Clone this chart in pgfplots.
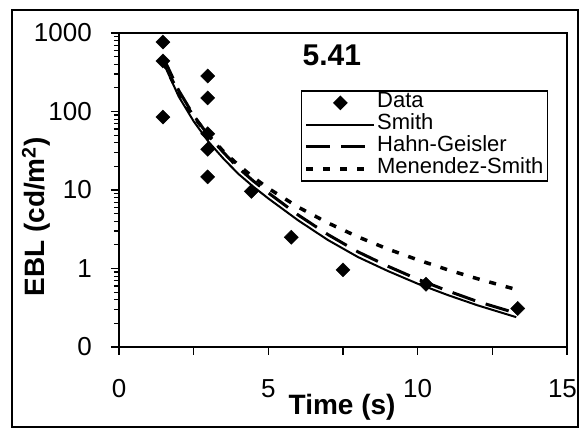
\documentclass[border=0pt]{standalone}
\usepackage{fontspec}
\setmainfont{Liberation Sans}
\usepackage{pgfplots}
\pgfplotsset{compat=1.18}
\pgfplotsset{datalegend/.style={legend image code/.code={\draw[mark repeat=2,mark phase=2,##1,mark size=4.5pt] plot coordinates {(0pt,0pt) (34pt,0pt) (68pt,0pt)};}}}
\begin{document}
\begin{tikzpicture}[x=1pt,y=1pt]
\useasboundingbox (0,0) rectangle (579,429);
\fill[white] (0,0) rectangle (579,429);
\draw[line width=2pt] (12,2) rectangle (578,419);
\begin{axis}[
  at={(119pt,82pt)}, anchor=south west,
  scale only axis, width=448pt, height=314pt,
  xmin=0, xmax=15, ymode=log, ymin=0.1, ymax=1000,
  axis line style={line width=2pt},
  xtick={0,2.5,5,7.5,10,12.5,15}, xticklabels={0,,5,,10,,\kern-9pt 15},
  ytick={0.1,1,10,100,1000}, yticklabels={0,1,10,100,1000},
  minor ytick={0.2,0.3,0.4,0.5,0.6,0.7,0.8,0.9,2,3,4,5,6,7,8,9,20,30,40,50,60,70,80,90,200,300,400,500,600,700,800,900},
  tick align=outside, xtick pos=bottom, ytick pos=left,
  major tick length=8pt, minor tick length=5pt,
  every tick/.style={line width=1.5pt, black},
  every minor tick/.style={line width=1.2pt, black},
  xticklabel style={font=\fontsize{26}{26}\selectfont, anchor=north, inner sep=0pt, yshift=-24pt},
  yticklabel style={font=\fontsize{26}{26}\selectfont, anchor=east, inner sep=0pt, xshift=-19pt},
  xlabel={\bfseries Time (s)},
  ylabel={\bfseries EBL (cd/m\textsuperscript{2})},
  xlabel style={font=\fontsize{28}{28}\selectfont, at={(axis description cs:0.498,-0.191)}, anchor=center},
  ylabel style={font=\fontsize{28}{28}\selectfont, at={(axis description cs:-0.185,0.414)}, anchor=center},
  legend cell align=left,
  legend style={at={(axis description cs:0.406,0.818)}, anchor=north west,
    draw=black, line width=1.5pt, font=\fontsize{22}{22}\selectfont,
    inner xsep=3pt, inner ysep=1pt, row sep=0pt,
    nodes={inner sep=1pt, text height=15pt, text depth=5pt}},
  legend image code/.code={\draw[#1] (0pt,0pt) -- (68pt,0pt);},
]
\addplot[only marks, mark=square*, mark options={rotate=45}, mark size=5pt, black, datalegend]
  coordinates {(1.47,767) (1.47,440) (1.47,85) (2.97,283) (2.97,149) (2.97,52) (2.97,33) (2.97,14.7)
  (4.43,9.6) (5.77,2.5) (7.5,0.96) (10.28,0.63) (13.35,0.31)};
\addlegendentry{Data}
\addplot[black, line width=2pt] coordinates {(1.47,430) (2,155) (2.5,75) (3,41) (3.5,25) (4,16) (4.5,11) (5,7.8) (6,4.1) (7,2.3) (8,1.4) (9,0.93) (10,0.64) (11,0.46) (12,0.34) (13.3,0.24)};
\addlegendentry{Smith}
\addplot[black, line width=3pt, dash pattern=on 24pt off 11pt] coordinates {(1.47,500) (2,185) (2.5,89) (3,49) (3.5,30) (4,19) (4.5,13) (5,9.2) (6,4.8) (7,2.7) (8,1.63) (9,1.07) (10,0.73) (11,0.52) (12,0.38) (13.3,0.27)};
\addlegendentry{Hahn-Geisler}
\addplot[black, line width=3.5pt, dash pattern=on 7pt off 10pt] coordinates {(1.47,430) (2,169) (2.5,86) (3,49.5) (3.5,31) (4,20.7) (4.5,14.5) (5,10.5) (6,6.05) (7,3.8) (8,2.53) (9,1.77) (10,1.29) (11,0.965) (12,0.741) (13.3,0.54)};
\addlegendentry{Menendez-Smith}
\node[font=\bfseries\fontsize{30}{30}\selectfont] at (axis description cs:0.475,0.928) {5.41};
\end{axis}
\end{tikzpicture}
\end{document}
